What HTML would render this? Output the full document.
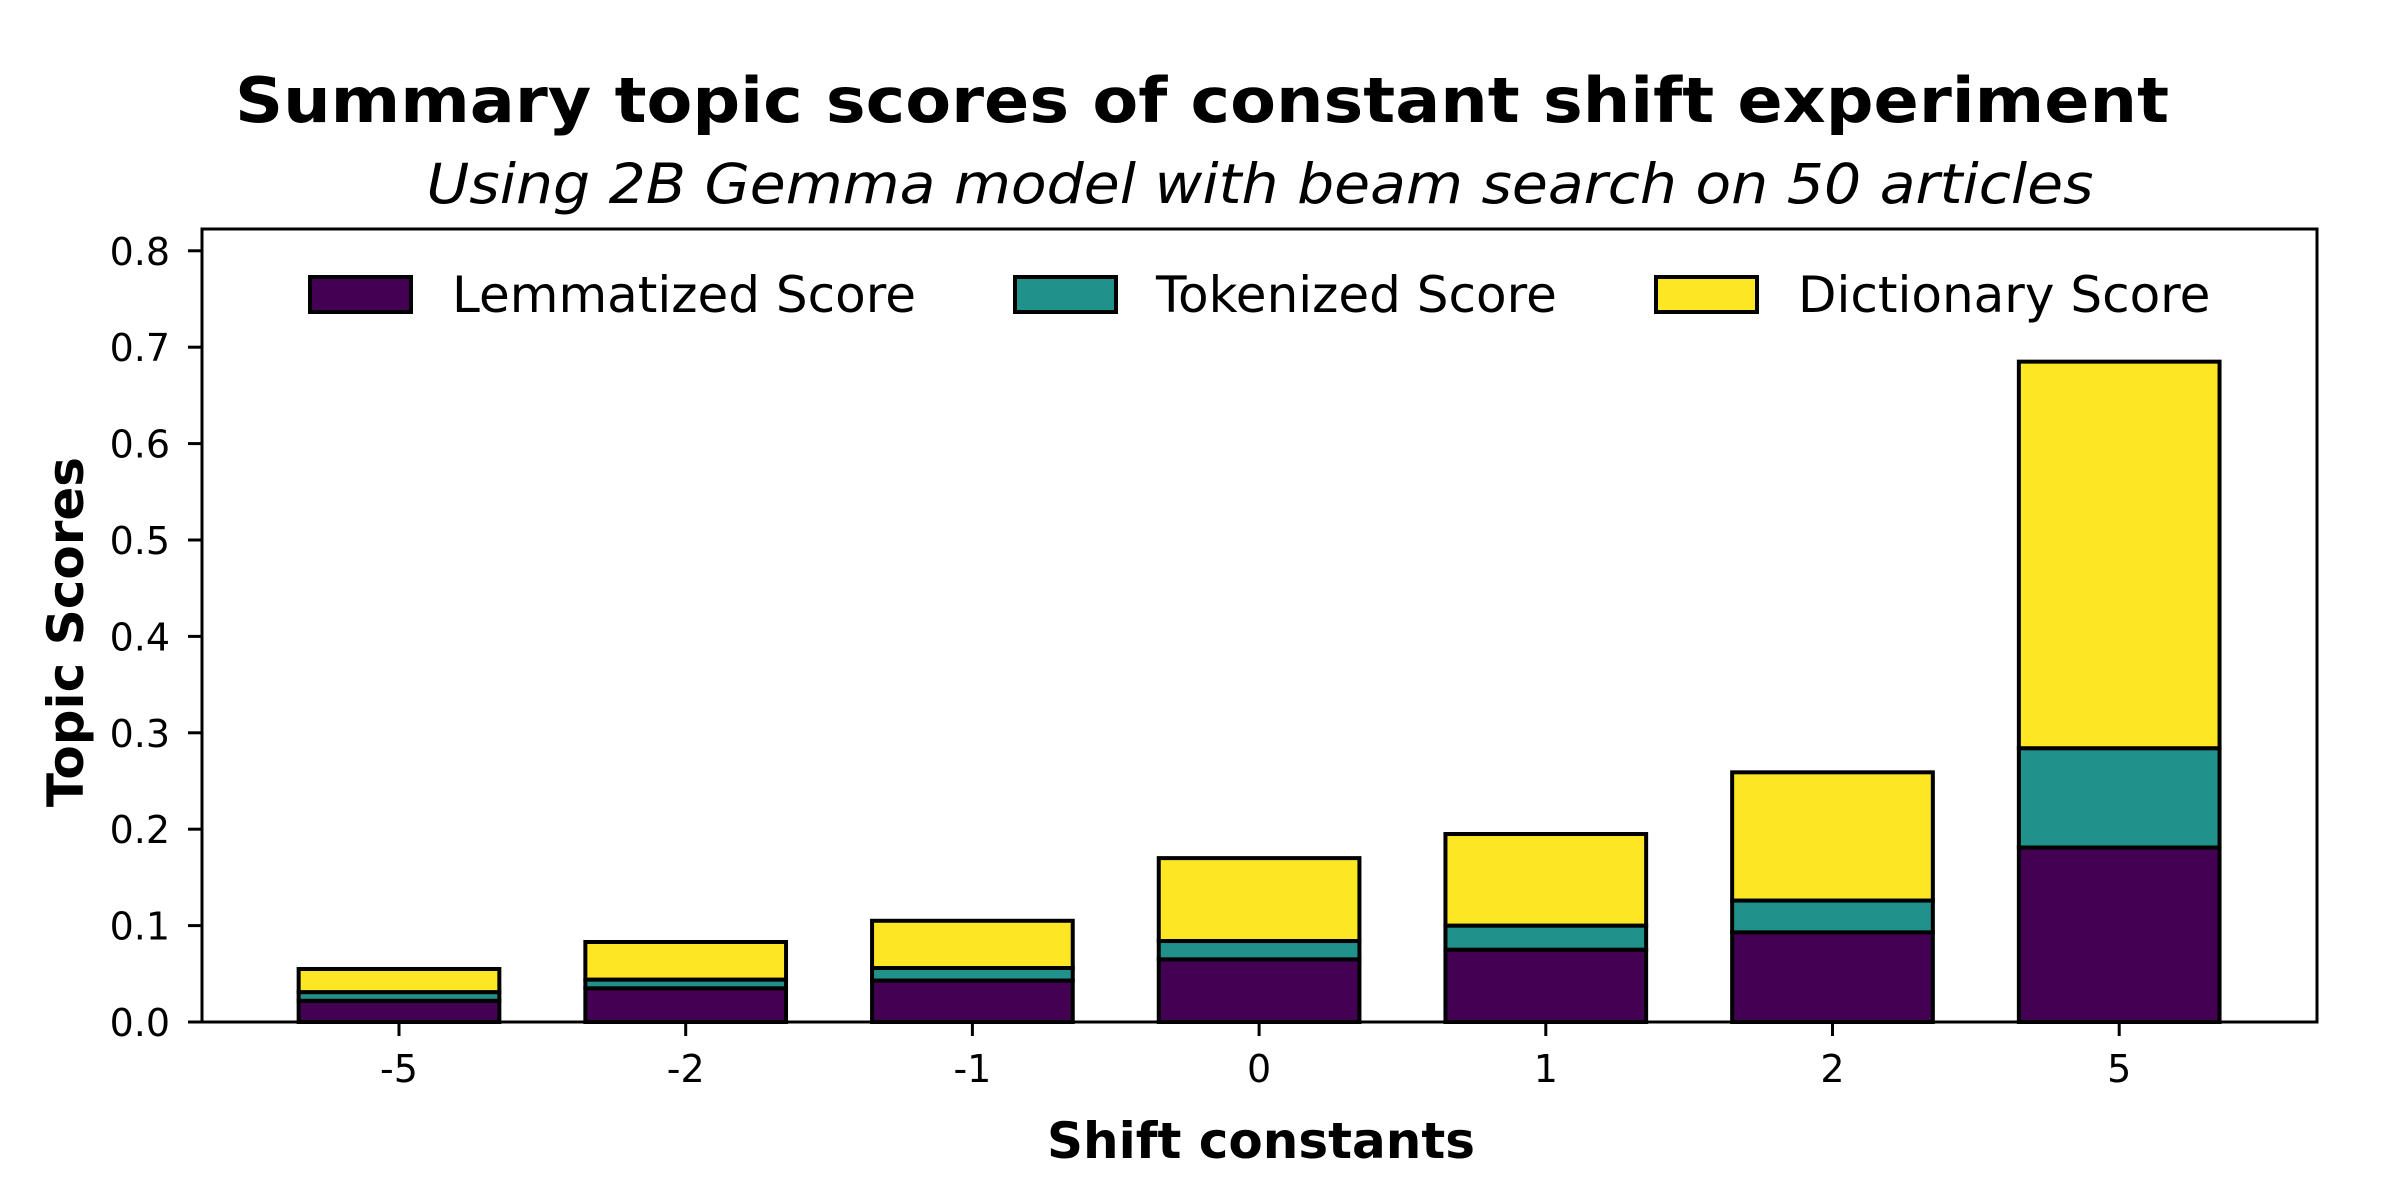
<!DOCTYPE html>
<html><head><meta charset="utf-8"><style>
html,body{margin:0;padding:0;background:#fff;}
svg{display:block;font-family:"DejaVu Sans","Liberation Sans",sans-serif;}
</style></head><body>
<svg id="chart" width="2400" height="1200" viewBox="0 0 2400 1200" xmlns="http://www.w3.org/2000/svg">
<rect width="2400" height="1200" fill="#fff"/>
<text x="1202" y="122" text-anchor="middle" font-size="62" font-weight="bold" textLength="1934" lengthAdjust="spacingAndGlyphs">Summary topic scores of constant shift experiment</text>
<text x="1260" y="203" text-anchor="middle" font-size="55" font-style="italic" textLength="1667" lengthAdjust="spacingAndGlyphs">Using 2B Gemma model with beam search on 50 articles</text>
<g id="bars"></g>
<g id="axes"></g>
<text transform="translate(83,632) rotate(-90)" text-anchor="middle" font-size="50" font-weight="bold">Topic Scores</text>
<text x="1261" y="1158" text-anchor="middle" font-size="50" font-weight="bold">Shift constants</text>
<g id="legend"></g>
</svg>
<script>
const categories = ["-5","-2","-1","0","1","2","5"];
const lemmatized = [0.022,0.035,0.043,0.065,0.075,0.093,0.181];
const tokenized  = [0.009,0.009,0.013,0.019,0.025,0.033,0.103];
const dictionary = [0.024,0.039,0.049,0.086,0.095,0.133,0.401];
const yTicks = [0,0.1,0.2,0.3,0.4,0.5,0.6,0.7,0.8];
const yTickLabels = ["0.0","0.1","0.2","0.3","0.4","0.5","0.6","0.7","0.8"];
const seriesNames = ["Lemmatized Score","Tokenized Score","Dictionary Score"];

const NS="http://www.w3.org/2000/svg";
const L=202,R=2317,T=229,B=1022;
const yMin=0,yMax=0.8226;
function y(v){return B-(v-yMin)/(yMax-yMin)*(B-T);}
const x0=399,step=286.7;
function x(i){return x0+i*step;}
const bw=step*0.7;
function mk(tag,attrs,parent){const e=document.createElementNS(NS,tag);for(const k in attrs)e.setAttribute(k,attrs[k]);parent.appendChild(e);return e;}
const colors=["#440154","#21918c","#fde725"];
const series=[lemmatized,tokenized,dictionary];
const bars=document.getElementById('bars');
categories.forEach((c,i)=>{
  let base=0;
  series.forEach((s,k)=>{
    const top=base+s[i];
    const r=mk('rect',{x:x(i)-bw/2,y:y(top),width:bw,height:y(base)-y(top),fill:colors[k],stroke:'#000','stroke-width':4},bars);
    
    
    base=top;
  });
});
const axes=document.getElementById('axes');
const frame=mk('rect',{x:L,y:T,width:R-L,height:B-T,fill:'none',stroke:'#000','stroke-width':3},axes);


yTicks.forEach((v,j)=>{
  const t=mk('line',{x1:L-14,x2:L,y1:y(v),y2:y(v),stroke:'#000','stroke-width':3},axes);
  
  
  const tx=mk('text',{x:L-32,y:y(v)+14,'text-anchor':'end','font-size':38},axes);
  tx.textContent=yTickLabels[j];
  
  
});
categories.forEach((c,i)=>{
  const t=mk('line',{x1:x(i),x2:x(i),y1:B,y2:B+14,stroke:'#000','stroke-width':3},axes);
  
  
  const tx=mk('text',{x:x(i),y:1082,'text-anchor':'middle','font-size':38},axes);
  tx.textContent=c;
  
  
});
const legend=document.getElementById('legend');
const lx=[310,1015,1656];
const tx=[452,1156,1798];
seriesNames.forEach((n,k)=>{
  const r=mk('rect',{x:lx[k],y:277,width:101,height:35,fill:colors[k],stroke:'#000','stroke-width':4},legend);
  
  
  const t=mk('text',{x:tx[k],y:312,'font-size':50},legend);
  t.textContent=n;
  
  
});
</script>
</body></html>
